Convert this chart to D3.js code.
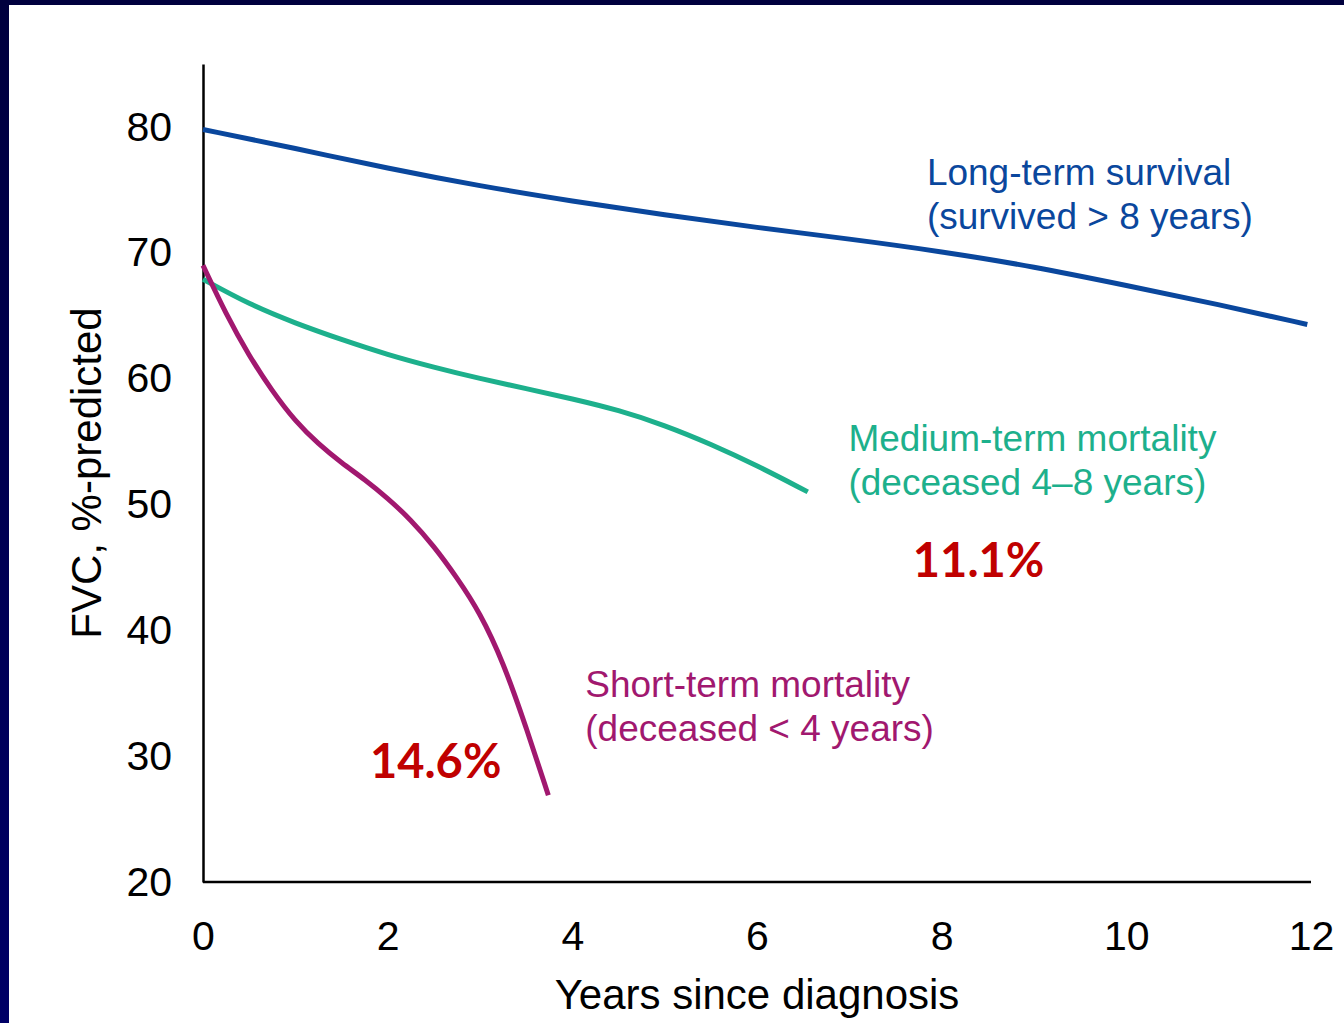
<!DOCTYPE html>
<html>
<head>
<meta charset="utf-8">
<script src="https://cdn.jsdelivr.net/npm/d3@7"></script>
<style>
  body { margin: 0; background: #fff; }
  svg { display: block; }
  .tick text { font-family: "Liberation Sans", Arial, sans-serif; font-size: 41px; fill: #000; }
  .axis-title { font-family: "Liberation Sans", Arial, sans-serif; font-size: 42px; fill: #000; }
  .note { font-family: "Liberation Sans", Arial, sans-serif; font-size: 37px; }
  .pct { font-family: Lato, "Open Sans", sans-serif; font-weight: 700; font-size: 47px; fill: #c00000; }
</style>
</head>
<body>
<svg id="chart"></svg>
<script>
// Years since diagnosis / FVC %-predicted
const longYears = [0, 1, 2, 3, 4, 5, 6, 7, 8, 9, 10, 11, 11.96];
const longFvc = [79.8, 78.3, 76.7, 75.3, 74.1, 73.0, 72.0, 71.1, 70.1, 68.9, 67.4, 65.9, 64.3];

const mediumYears = [0, 0.5, 1, 1.5, 2, 2.5, 3, 3.5, 4, 4.5, 5, 5.5, 6, 6.55];
const mediumFvc = [67.9, 65.9, 64.4, 63.1, 61.9, 60.9, 60.0, 59.2, 58.4, 57.5, 56.3, 54.8, 53.1, 51.0];

const shortYears = [0, 0.25, 0.5, 0.75, 1, 1.25, 1.5, 1.75, 2, 2.25, 2.5, 2.75, 3, 3.25, 3.5, 3.74];
const shortFvc = [69.0, 65.1, 61.8, 59.0, 56.6, 54.8, 53.3, 52.0, 50.5, 48.8, 46.7, 44.2, 41.4, 37.5, 32.3, 26.9];

const xTicks = [0, 2, 4, 6, 8, 10, 12];
const yTicks = [20, 30, 40, 50, 60, 70, 80];

const seriesNames = ['long', 'medium', 'short'];
const seriesLabels = [
    ['Long-term survival', '(survived > 8 years)'],
    ['Medium-term mortality', '(deceased 4\u20138 years)'],
    ['Short-term mortality', '(deceased < 4 years)']
];
const pctLabels = ['11.1%', '14.6%'];

const width = 1344, height = 1023;
const colors = { long: '#0a479d', medium: '#1db08c', short: '#a1186f' };

const svg = d3.select('#chart')
    .attr('width', width)
    .attr('height', height);

// dark slide frame on top and left
const grad = svg.append('defs').append('linearGradient')
    .attr('id', 'frame').attr('x1', 0).attr('y1', 0).attr('x2', 0).attr('y2', 1);
grad.append('stop').attr('offset', 0).attr('stop-color', '#00003e');
grad.append('stop').attr('offset', 1).attr('stop-color', '#000066');
svg.append('rect').attr('width', width).attr('height', height).attr('fill', '#fff');
svg.append('rect').attr('width', 9).attr('height', height).attr('fill', 'url(#frame)');
svg.append('rect').attr('width', width).attr('height', 5).attr('fill', '#00003e');

const xScale = d3.scaleLinear().domain([0, 12]).range([203, 1311]);
const yScale = d3.scaleLinear().domain([20, 85]).range([882, 64]);

// axes (no tick marks, just labels)
const xAxisG = svg.append('g')
    .attr('class', 'axis x-axis')
    .attr('transform', `translate(0,${yScale(20)})`)
    .call(d3.axisBottom(xScale).tickValues(xTicks).tickSize(0).tickPadding(39).tickSizeOuter(0));

const yAxisG = svg.append('g')
    .attr('class', 'axis y-axis')
    .attr('transform', `translate(${xScale(0)},0)`)
    .call(d3.axisLeft(yScale).tickValues(yTicks).tickSize(0).tickPadding(31).tickSizeOuter(0));

svg.selectAll('.axis .domain')
    .attr('stroke', '#000')
    .attr('stroke-width', 2.5);

xAxisG.select('.domain').attr('d', `M${xScale(0)},0H${xScale(12)}`);

svg.append('text')
    .attr('class', 'axis-title')
    .attr('x', xScale(6))
    .attr('y', 1009)
    .attr('text-anchor', 'middle')
    .text('Years since diagnosis');

svg.append('text')
    .attr('class', 'axis-title')
    .attr('transform', `translate(101,${(yScale(20) + yScale(85)) / 2}) rotate(-90)`)
    .attr('text-anchor', 'middle')
    .text('FVC, %-predicted');

// curves
const series = {
    long: longYears.map((d, i) => [d, longFvc[i]]),
    medium: mediumYears.map((d, i) => [d, mediumFvc[i]]),
    short: shortYears.map((d, i) => [d, shortFvc[i]])
};

const line = d3.line()
    .x(d => xScale(d[0]))
    .y(d => yScale(d[1]))
    .curve(d3.curveBasis);

svg.selectAll('.curve')
    .data(seriesNames)
    .join('path')
        .attr('class', 'curve')
        .attr('d', k => line(series[k]))
        .attr('fill', 'none')
        .attr('stroke', k => colors[k])
        .attr('stroke-width', 5);

// series annotations, anchored in data units
const noteAnchors = [[7.84, 75.4], [6.99, 54.25], [4.14, 34.7]];
seriesNames.forEach((k, i) => {
    const t = svg.append('text')
        .attr('class', 'note')
        .attr('fill', colors[k])
        .attr('x', xScale(noteAnchors[i][0]))
        .attr('y', yScale(noteAnchors[i][1]));
    seriesLabels[i].forEach((s, j) => {
        t.append('tspan')
            .attr('x', xScale(noteAnchors[i][0]))
            .attr('dy', j === 0 ? 0 : 44)
            .text(s);
    });
});

const pctAnchors = [[8.4, 44.2], [2.52, 28.3]];
svg.selectAll('.pct')
    .data(pctLabels)
    .join('text')
        .attr('class', 'pct')
        .attr('x', (d, i) => xScale(pctAnchors[i][0]))
        .attr('y', (d, i) => yScale(pctAnchors[i][1]))
        .attr('text-anchor', 'middle')
        .text(d => d);
</script>
</body>
</html>
